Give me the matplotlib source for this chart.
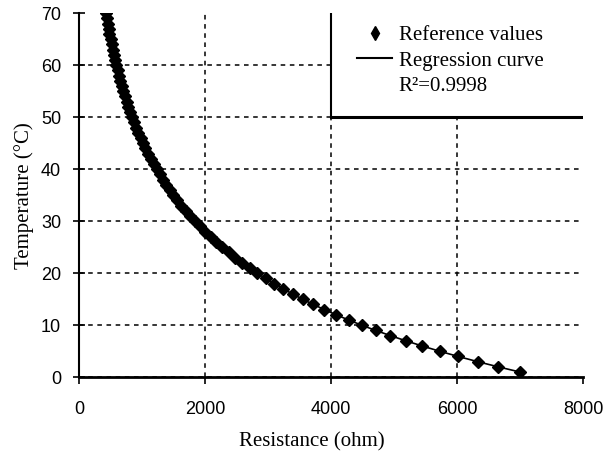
import matplotlib
matplotlib.use("Agg")
import matplotlib.pyplot as plt
from matplotlib.lines import Line2D
from matplotlib.patches import Rectangle

temperature = list(range(1, 71))
resistance = [7000, 6653, 6326, 6016, 5724, 5449, 5188, 4941, 4708, 4487,
              4279, 4081, 3893, 3716, 3548, 3388, 3237, 3093, 2957, 2827,
              2704, 2587, 2476, 2371, 2270, 2175, 2084, 1997, 1915, 1836,
              1761, 1690, 1622, 1557, 1495, 1436, 1380, 1326, 1275, 1226,
              1179, 1134, 1092, 1051, 1011, 974, 938, 904, 871, 839,
              809, 780, 753, 726, 700, 676, 653, 630, 608, 588,
              568, 549, 530, 513, 496, 479, 464, 449, 434, 420]

x_ticks = [0, 2000, 4000, 6000, 8000]
y_ticks = [0, 10, 20, 30, 40, 50, 60, 70]
r2_text = "R\u00b2=0.9998"

serif = ["Liberation Serif", "DejaVu Serif"]
sans = ["Liberation Sans", "DejaVu Sans"]

fig = plt.figure(figsize=(6.1, 4.54), dpi=100)
ax = fig.add_axes([0.130, 0.169, 0.826, 0.802])

# regression curve + reference points
ax.plot(resistance, temperature, color="black", lw=1.2, zorder=3)
ax.plot(resistance, temperature, ls="none", marker="D", ms=6.3,
        color="black", zorder=4)

ax.set_xlim(0, 8000)
ax.set_ylim(0, 70)
ax.set_xticks(x_ticks)
ax.set_yticks(y_ticks)
ax.set_xticklabels([str(v) for v in x_ticks], family=sans, fontsize=13)
ax.set_yticklabels([str(v) for v in y_ticks], family=sans, fontsize=13)
ax.tick_params(axis="x", direction="out", length=5, width=1.2, pad=12)
ax.tick_params(axis="y", direction="inout", length=8, width=1.2, pad=9)

for s in ["top", "right"]:
    ax.spines[s].set_visible(False)
ax.spines["left"].set_linewidth(1.5)
ax.spines["bottom"].set_linewidth(2.0)

ax.grid(True, color="black", ls=(0, (3, 3)), lw=1.1)
ax.get_xgridlines()[-1].set_visible(False)
ax.get_ygridlines()[-1].set_visible(False)
ax.set_axisbelow(True)

ax.set_xlabel("Resistance (ohm)", family=serif, fontsize=15, va="center")
ax.set_ylabel("Temperature (\u00b0C)", family=serif, fontsize=15, va="center")
ax.xaxis.set_label_coords(0.462, -0.177)
ax.yaxis.set_label_coords(-0.110, 0.5)

# legend box: white fill hides the grid, only left and bottom edges show
ax.add_patch(Rectangle((0.5, 5 / 7), 0.5, 2 / 7, transform=ax.transAxes,
                       facecolor="white", edgecolor="none", zorder=1))
ax.add_line(Line2D([0.5, 0.5], [5 / 7, 1.0], transform=ax.transAxes,
                   color="black", lw=1.5, zorder=5))
ax.add_line(Line2D([0.5, 1.0], [5 / 7, 5 / 7], transform=ax.transAxes,
                   color="black", lw=2.2, zorder=5))

handles = [Line2D([], [], ls="none", marker="d", ms=7, color="black"),
           Line2D([], [], color="black", lw=1.5),
           Line2D([], [], color="none")]
labels = ["Reference values", "Regression curve", r2_text]
ax.legend(handles, labels, loc="upper left", bbox_to_anchor=(0.551, 0.966),
          frameon=False, prop={"family": serif, "size": 15},
          handlelength=1.7, handletextpad=0.3, labelspacing=0.29,
          borderpad=0, borderaxespad=0)

fig.savefig("out.png", dpi=100)
